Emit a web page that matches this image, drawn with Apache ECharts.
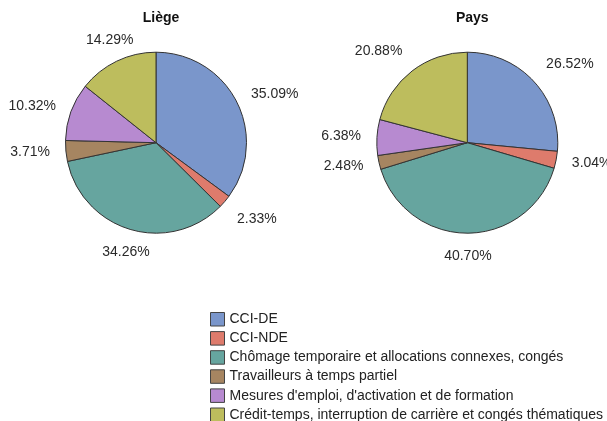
<!DOCTYPE html>
<html>
<head>
<meta charset="utf-8">
<script src="https://cdn.jsdelivr.net/npm/echarts@6/dist/echarts.min.js"></script>
<style>
html,body{margin:0;padding:0;background:#fff;}
#main{width:607px;height:421px;}
</style>
</head>
<body>
<div id="main"></div>
<script>
const categories = [
  "CCI-DE",
  "CCI-NDE",
  "Chômage temporaire et allocations connexes, congés",
  "Travailleurs à temps partiel",
  "Mesures d'emploi, d'activation et de formation",
  "Crédit-temps, interruption de carrière et congés thématiques"
];
const liegeValues = [35.09, 2.33, 34.26, 3.71, 10.32, 14.29];
const paysValues = [26.52, 3.04, 40.70, 2.48, 6.38, 20.88];
const titles = ["Liège", "Pays"];
const colors = ["#7A96CB", "#DE7B6C", "#66A59F", "#A68561", "#B78AD0", "#BDBD5D"];

const FONT = "'Liberation Sans', Arial, sans-serif";
const R = 90.5;
const centers = [[156, 142.7], [467.3, 142.7]];

function makeLayout(values, c, r) {
  const total = values.reduce((a, b) => a + b, 0);
  return function (params) {
    const idx = params.dataIndex;
    let cum = 0;
    for (let i = 0; i < idx; i++) cum += values[i];
    const mid = (cum + values[idx] / 2) / total * Math.PI * 2;
    const ux = Math.sin(mid), uy = -Math.cos(mid);
    const d = r + 16;
    return {
      x: c[0] + ux * d,
      y: c[1] + uy * d,
      align: ux > 0.5 ? 'left' : (ux < -0.5 ? 'right' : 'center'),
      verticalAlign: uy > 0.5 ? 'top' : (uy < -0.5 ? 'bottom' : 'middle')
    };
  };
}

function makeSeries(values, c, name) {
  return {
    name: name,
    type: 'pie',
    center: c,
    radius: R,
    startAngle: 90,
    clockwise: true,
    avoidLabelOverlap: false,
    silent: true,
    itemStyle: { borderColor: '#333', borderWidth: 1 },
    label: {
      show: true,
      position: 'outside',
      formatter: p => p.value.toFixed(2) + '%',
      fontFamily: FONT,
      fontSize: 14,
      color: '#2a2a2a'
    },
    labelLine: { show: false },
    labelLayout: makeLayout(values, c, R),
    data: categories.map((n, i) => ({ name: n, value: values[i], itemStyle: { color: colors[i] } }))
  };
}

const chart = echarts.init(document.getElementById('main'), null, { renderer: 'canvas' });
chart.setOption({
  animation: false,
  color: colors,
  title: titles.map((t, i) => ({
    text: t,
    left: centers[i][0],
    top: 6,
    textAlign: 'center',
    textStyle: { fontFamily: FONT, fontSize: 14, fontWeight: 'bold', color: '#111' }
  })),
  legend: {
    orient: 'vertical',
    left: 210,
    top: 312,
    height: 300,
    padding: 0,
    itemWidth: 14,
    itemHeight: 13.5,
    itemGap: 4.6,
    icon: 'rect',
    selectedMode: false,
    itemStyle: { borderColor: '#444', borderWidth: 1 },
    textStyle: { fontFamily: FONT, fontSize: 14, color: '#222', lineHeight: 13 },
    data: categories
  },
  series: [
    makeSeries(liegeValues, centers[0], titles[0]),
    makeSeries(paysValues, centers[1], titles[1])
  ]
});
</script>
</body>
</html>
